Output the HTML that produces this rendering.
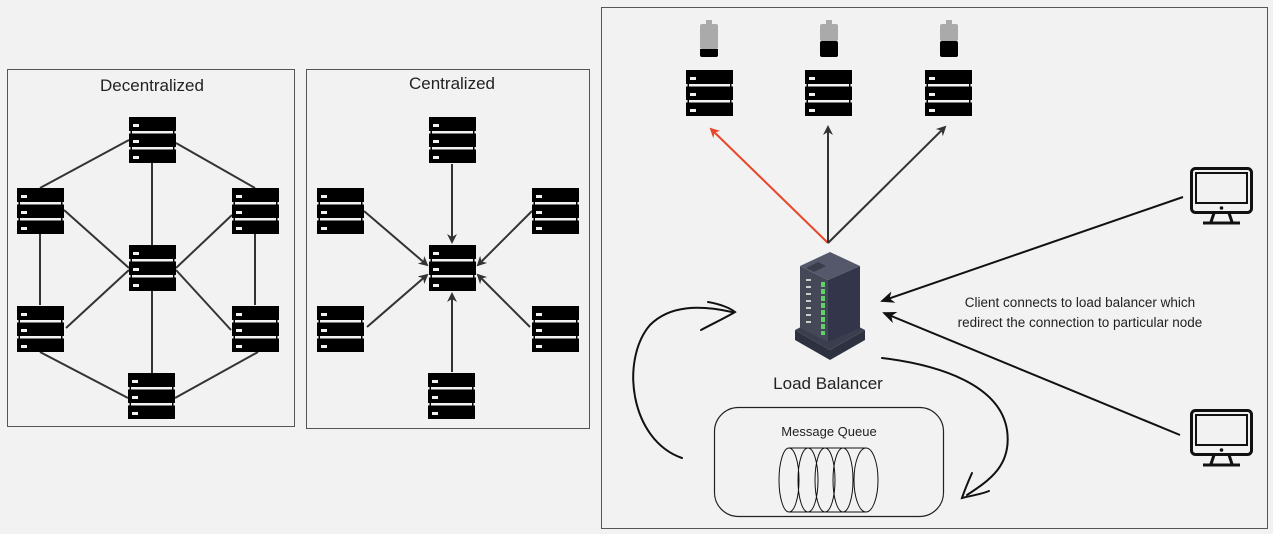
<!DOCTYPE html>
<html><head><meta charset="utf-8"><style>
html,body{margin:0;padding:0;background:#f2f2f2;}
svg{display:block;font-family:"Liberation Sans","DejaVu Sans",sans-serif;}
</style></head><body>
<svg width="1273" height="534" viewBox="0 0 1273 534" xmlns="http://www.w3.org/2000/svg">
<defs>
<g id="srv">
<rect x="0" y="0" width="47" height="46" fill="#000"/>
<rect x="3" y="14" width="41" height="2.5" fill="#f2f2f2"/>
<rect x="3" y="30" width="41" height="2.5" fill="#f2f2f2"/>
<rect x="0" y="14" width="1.5" height="2.5" fill="#f2f2f2"/>
<rect x="45.5" y="14" width="1.5" height="2.5" fill="#f2f2f2"/>
<rect x="0" y="30" width="1.5" height="2.5" fill="#f2f2f2"/>
<rect x="45.5" y="30" width="1.5" height="2.5" fill="#f2f2f2"/>
<rect x="4" y="7" width="6" height="3" fill="#f2f2f2"/>
<rect x="4" y="23" width="6" height="3" fill="#f2f2f2"/>
<rect x="4" y="39" width="6" height="3" fill="#f2f2f2"/>
</g>
<marker id="ar" markerWidth="10" markerHeight="10" refX="8" refY="5" orient="auto" markerUnits="userSpaceOnUse"><path d="M0,0 L10,5 L0,10 L3,5 Z" fill="#333"/></marker>
<marker id="arr" markerWidth="10" markerHeight="10" refX="8" refY="5" orient="auto" markerUnits="userSpaceOnUse"><path d="M0,0 L10,5 L0,10 L3,5 Z" fill="#e8472b"/></marker>
<marker id="ark" markerWidth="14" markerHeight="12" refX="12" refY="6" orient="auto" markerUnits="userSpaceOnUse"><path d="M0,0 L14,6 L0,12 L4,6 Z" fill="#111"/></marker>
<g id="mon" fill="none" stroke="#111" stroke-width="3">
<rect x="1.5" y="1.5" width="60" height="44" rx="4"/>
<rect x="6" y="6" width="51" height="30" stroke-width="2"/>
<line x1="24" y1="46" x2="21" y2="55"/><line x1="39" y1="46" x2="42" y2="55"/>
<line x1="13" y1="56" x2="50" y2="56"/>
<circle cx="31.5" cy="41" r="1.8" fill="#111" stroke="none"/>
</g>
</defs>

<!-- Decentralized -->
<rect x="7.5" y="69.5" width="287" height="357" fill="none" stroke="#555" stroke-width="1"/>
<text x="152" y="91" font-size="17" text-anchor="middle" fill="#222">Decentralized</text>
<g stroke="#333" stroke-width="2">
<line x1="129" y1="140" x2="40" y2="188"/>
<line x1="176" y1="143" x2="255" y2="188"/>
<line x1="152" y1="163" x2="152" y2="245"/>
<line x1="64" y1="210" x2="129" y2="268"/>
<line x1="232" y1="215" x2="176" y2="268"/>
<line x1="40" y1="234" x2="40" y2="305"/>
<line x1="255" y1="234" x2="255" y2="305"/>
<line x1="66" y1="328" x2="129" y2="270"/>
<line x1="231" y1="330" x2="176" y2="270"/>
<line x1="152" y1="291" x2="152" y2="373"/>
<line x1="40" y1="352" x2="128" y2="398"/>
<line x1="258" y1="352" x2="175" y2="398"/>
</g>
<use href="#srv" x="129" y="117"/>
<use href="#srv" x="17" y="188"/>
<use href="#srv" x="232" y="188"/>
<use href="#srv" x="129" y="245"/>
<use href="#srv" x="17" y="306"/>
<use href="#srv" x="232" y="306"/>
<use href="#srv" x="128" y="373"/>

<!-- Centralized -->
<rect x="306.5" y="69.5" width="283" height="359" fill="none" stroke="#555" stroke-width="1"/>
<text x="452" y="89" font-size="17" text-anchor="middle" fill="#222">Centralized</text>
<g stroke="#333" stroke-width="2" marker-end="url(#ar)">
<line x1="452" y1="164" x2="452" y2="242"/>
<line x1="364" y1="211" x2="427" y2="265"/>
<line x1="532" y1="211" x2="478" y2="265"/>
<line x1="367" y1="327" x2="427" y2="275"/>
<line x1="530" y1="327" x2="478" y2="275"/>
<line x1="452" y1="372" x2="452" y2="294"/>
</g>
<use href="#srv" x="429" y="117"/>
<use href="#srv" x="317" y="188"/>
<use href="#srv" x="532" y="188"/>
<use href="#srv" x="429" y="245"/>
<use href="#srv" x="317" y="306"/>
<use href="#srv" x="532" y="306"/>
<use href="#srv" x="428" y="373"/>

<!-- Right panel -->
<rect x="601.5" y="7.5" width="666" height="521" fill="none" stroke="#555" stroke-width="1"/>
<!-- batteries -->
<g>
<rect x="706" y="20" width="6" height="4" fill="#aaa"/><rect x="700" y="24" width="18" height="25" rx="2" fill="#aaa"/><rect x="700" y="49" width="18" height="8" rx="2" fill="#000"/><rect x="700" y="49" width="18" height="3" fill="#000"/>
<rect x="826" y="20" width="6" height="4" fill="#aaa"/><rect x="820" y="24" width="18" height="17" rx="2" fill="#aaa"/><rect x="820" y="41" width="18" height="16" rx="2" fill="#000"/>
<rect x="946" y="20" width="6" height="4" fill="#aaa"/><rect x="940" y="24" width="18" height="17" rx="2" fill="#aaa"/><rect x="940" y="41" width="18" height="16" rx="2" fill="#000"/>
</g>
<use href="#srv" x="686" y="70"/>
<use href="#srv" x="805" y="70"/>
<use href="#srv" x="925" y="70"/>
<line x1="828" y1="243" x2="711" y2="129" stroke="#e8472b" stroke-width="2" marker-end="url(#arr)"/>
<line x1="828" y1="243" x2="828" y2="127" stroke="#333" stroke-width="2" marker-end="url(#ar)"/>
<line x1="828" y1="243" x2="945" y2="127" stroke="#333" stroke-width="2" marker-end="url(#ar)"/>

<!-- load balancer -->
<g>
<polygon points="795,330 830,350 865,330 865,340 830,360 795,340" fill="#2e3140"/>
<polygon points="795,330 830,312 865,330 830,350" fill="#3b3e4e"/>
<polygon points="800,266 828,280 828,342 800,328" fill="#454857"/>
<polygon points="828,280 860,266 860,328 828,342" fill="#33364a"/>
<polygon points="800,266 830,252 860,266 828,280" fill="#55586a"/>
<polygon points="806,268 818,262 826,266 814,272" fill="#3a3d4c"/>
<g fill="#5fd06a">
<rect x="821" y="282" width="4" height="5"/><rect x="821" y="289" width="4" height="5"/><rect x="821" y="296" width="4" height="5"/><rect x="821" y="303" width="4" height="5"/><rect x="821" y="310" width="4" height="5"/><rect x="821" y="317" width="4" height="5"/><rect x="821" y="324" width="4" height="5"/><rect x="821" y="331" width="4" height="4"/>
</g>
<g fill="#ccc">
<rect x="806" y="279" width="5" height="2"/><rect x="806" y="286" width="5" height="2"/><rect x="806" y="293" width="5" height="2"/><rect x="806" y="300" width="5" height="2"/><rect x="806" y="307" width="5" height="2"/><rect x="806" y="314" width="5" height="2"/><rect x="806" y="321" width="5" height="2"/>
</g>
</g>
<text x="828" y="389" font-size="17" text-anchor="middle" fill="#222">Load Balancer</text>

<!-- monitors & arrows -->
<use href="#mon" x="1190" y="167"/>
<use href="#mon" x="1190" y="409"/>
<line x1="1183" y1="197" x2="882" y2="301" stroke="#111" stroke-width="2" marker-end="url(#ark)"/>
<line x1="1180" y1="435" x2="884" y2="313" stroke="#111" stroke-width="2" marker-end="url(#ark)"/>
<text x="1080" y="307" font-size="13.5" text-anchor="middle" fill="#222">Client connects to load balancer which</text>
<text x="1080" y="327" font-size="13.5" text-anchor="middle" fill="#222">redirect the connection to particular node</text>

<!-- message queue -->
<rect x="714.5" y="407.5" width="229" height="109" rx="24" fill="none" stroke="#222" stroke-width="1.2"/>
<text x="829" y="436" font-size="13" text-anchor="middle" fill="#222">Message Queue</text>
<g fill="none" stroke="#111" stroke-width="1">
<ellipse cx="789" cy="480" rx="10" ry="32"/>
<ellipse cx="808" cy="480" rx="10" ry="32"/>
<ellipse cx="825" cy="480" rx="10" ry="32"/>
<ellipse cx="843" cy="480" rx="10" ry="32"/>
<ellipse cx="866" cy="480" rx="12" ry="32"/>
<line x1="789" y1="448" x2="866" y2="448"/>
<line x1="789" y1="512" x2="866" y2="512"/>
</g>

<!-- curved arrows -->
<g fill="none" stroke="#111" stroke-width="2" stroke-linecap="round">
<path d="M682,458 C630,440 620,360 650,325 C670,305 700,305 732,312"/>
<path d="M708,302 C720,304 730,308 735,312 C725,318 712,324 701,330"/>
<path d="M882,358 C940,365 1000,385 1007,430 C1012,465 990,480 967,495"/>
<path d="M972,473 C968,482 964,492 962,498 C970,496 982,494 989,491"/>
</g>
</svg>
</body></html>
